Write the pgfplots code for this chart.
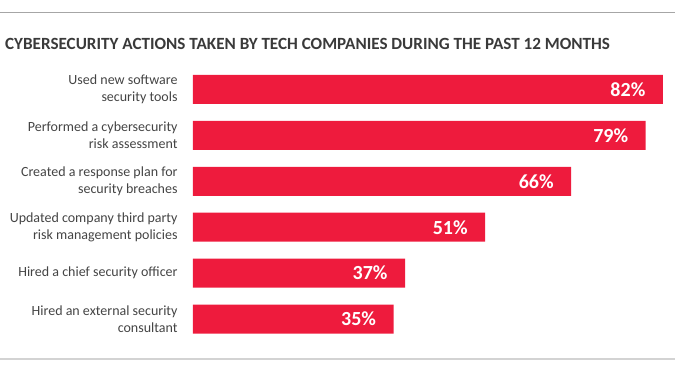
\documentclass[border=0pt]{standalone}
\usepackage{pgfplots}
\pgfplotsset{compat=1.18}
\usepackage{fontspec}
\setmainfont{Carlito}
\definecolor{barred}{RGB}{238,27,61}
\definecolor{titlegray}{RGB}{58,58,58}
\definecolor{labelgray}{RGB}{68,68,68}
\begin{document}
\begin{tikzpicture}[x=1pt,y=1pt]
\useasboundingbox (0,0) rectangle (675,372);
\draw[color={rgb,255:red,166;green,166;blue,166},line width=1pt] (0,359) -- (675,359);
\draw[color={rgb,255:red,211;green,211;blue,211},line width=2pt] (0,13) -- (675,13);
\node[anchor=base west,inner sep=0pt,text=titlegray,font=\fontsize{17.1}{18}\selectfont\bfseries] at (5,322) {CYBERSECURITY ACTIONS TAKEN BY TECH COMPANIES DURING THE PAST 12 MONTHS};
\begin{axis}[
  at={(193pt,30.05pt)}, anchor=south west,
  scale only axis, width=573pt, height=275.4pt,
  xbar, bar width=29pt,
  xmin=0, xmax=100, ymin=-0.5, ymax=5.5, y dir=reverse,
  axis line style={draw=none}, tick style={draw=none},
  xtick=\empty, ytick={0,1,2,3,4,5},
  /pgf/number format/assume math mode=true,
  yticklabels={{Used new software\\security tools},{Performed a cybersecurity\\risk assessment},{Created a response plan for\\security breaches},{Updated company third party\\risk management policies},{Hired a chief security officer},{Hired an external security\\consultant}},
  yticklabel style={align=right, inner sep=0pt, xshift=-11pt, text=labelgray, font=\fontsize{14}{17}\selectfont},
  nodes near coords={\pgfmathprintnumber{\pgfplotspointmeta}\%},
  every node near coord/.append style={anchor=east, xshift=-14pt, text=white, font=\fontsize{20}{20}\selectfont\bfseries},
]
\addplot[fill=barred, draw=none] coordinates {(82,0) (79,1) (66,2) (51,3) (37,4) (35,5)};
\end{axis}
\end{tikzpicture}
\end{document}
